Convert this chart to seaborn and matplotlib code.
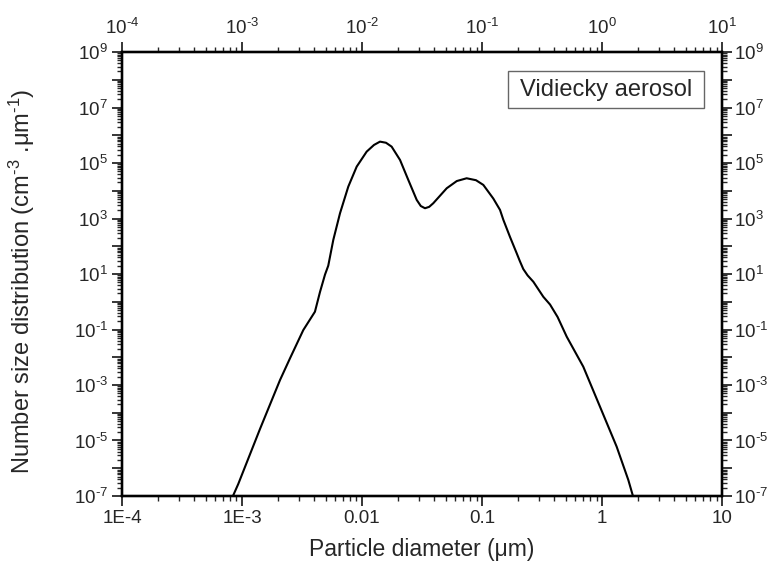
import numpy as np
import pandas as pd
import seaborn as sns
import matplotlib
matplotlib.use('Agg')
import matplotlib.pyplot as plt
from matplotlib.patches import Rectangle
from matplotlib.ticker import LogLocator, FixedLocator, FixedFormatter, FuncFormatter, NullFormatter

# values
diameter = [8.41e-4, 9.31e-4, 1.413e-3, 2.075e-3, 2.512e-3, 3.243e-3, 4.055e-3, 4.467e-3,
            4.920e-3, 5.236e-3, 5.768e-3, 6.561e-3, 7.691e-3, 9.036e-3, 1.094e-2, 1.259e-2,
            1.413e-2, 1.585e-2, 1.766e-2, 2.075e-2, 2.432e-2, 2.858e-2, 3.090e-2, 3.350e-2,
            3.631e-2, 3.926e-2, 5.082e-2, 6.166e-2, 7.447e-2, 8.913e-2, 0.1026, 0.1242,
            0.1413, 0.1507, 0.1710, 0.1945, 0.2065, 0.2208, 0.2399, 0.2679, 0.3243, 0.3690,
            0.4266, 0.5082, 0.6982, 0.9616, 1.324, 1.656, 1.811]
number_dist = [1.0e-7, 2.7e-7, 2.6e-5, 1.51e-3, 9.12e-3, 9.55e-2, 0.437, 2.24,
               9.55, 19.95, 169.8, 1549, 1.413e4, 7.41e4, 2.57e5, 4.47e5,
               5.89e5, 5.37e5, 3.89e5, 1.288e5, 2.455e4, 4677, 2818, 2344,
               2630, 3548, 1.23e4, 2.239e4, 2.818e4, 2.399e4, 1.622e4, 5248,
               2042, 891, 218.8, 56.2, 29.5, 15.1, 8.9, 5.25, 1.51, 0.794,
               0.282, 5.50e-2, 4.57e-3, 1.66e-4, 6.03e-6, 3.80e-7, 1.0e-7]

bottom_ticks = [1e-4, 1e-3, 1e-2, 1e-1, 1, 10]
bottom_labels = ['1E-4', '1E-3', '0.01', '0.1', '1', '10']
top_labels = [r'$10^{\text{-}4}$', r'$10^{\text{-}3}$', r'$10^{\text{-}2}$', r'$10^{\text{-}1}$', '$10^{0}$', '$10^{1}$']

df = pd.DataFrame({'d': diameter, 'n': number_dist})

sns.set_style('ticks')
plt.rcParams['font.family'] = ['Liberation Sans', 'DejaVu Sans']
plt.rcParams['mathtext.fontset'] = 'custom'
plt.rcParams['mathtext.rm'] = 'Liberation Sans'
plt.rcParams['mathtext.it'] = 'Liberation Sans:italic'
plt.rcParams['mathtext.default'] = 'regular'

f = plt.figure(figsize = (7.69, 5.69), dpi = 100)
ax = f.add_axes([0.1586, 0.1283, 0.7803, 0.7803])

sns.lineplot(x = 'd', y = 'n', data = df, ax = ax, color = 'black', linewidth = 1.5, sort = False)

ax.set_xscale('log')
ax.set_yscale('log')
ax.set_xlim(1e-4, 10)
ax.set_ylim(1e-7, 1e9)

ax.xaxis.set_major_locator(FixedLocator(bottom_ticks))
ax.xaxis.set_major_formatter(FixedFormatter(bottom_labels))
ax.xaxis.set_minor_locator(LogLocator(base = 10, subs = np.arange(2, 10), numticks = 20))
ax.xaxis.set_minor_formatter(NullFormatter())

def ylab(v, pos):
    e = int(round(np.log10(v)))
    if e % 2 == 0:
        return ''
    if e < 0:
        return r'$10^{\text{-}%d}$' % (-e)
    return '$10^{%d}$' % e

ax.yaxis.set_major_locator(LogLocator(base = 10, numticks = 30))
ax.yaxis.set_major_formatter(FuncFormatter(ylab))
ax.yaxis.set_minor_locator(LogLocator(base = 10, subs = np.arange(2, 10), numticks = 30))
ax.yaxis.set_minor_formatter(NullFormatter())

ax.tick_params(which = 'major', direction = 'out', length = 7, width = 1.3, labelsize = 13.5, pad = 3)
ax.tick_params(which = 'minor', direction = 'out', length = 3.5, width = 1.0)

# top axis
axt = ax.twiny()
axt.set_xscale('log')
axt.set_xlim(1e-4, 10)
axt.xaxis.set_major_locator(FixedLocator(bottom_ticks))
axt.xaxis.set_major_formatter(FixedFormatter(top_labels))
axt.xaxis.set_minor_locator(LogLocator(base = 10, subs = np.arange(2, 10), numticks = 20))
axt.xaxis.set_minor_formatter(NullFormatter())
axt.tick_params(which = 'major', direction = 'out', length = 7, width = 1.3, labelsize = 13.5, pad = 3)
axt.tick_params(which = 'minor', direction = 'out', length = 3.5, width = 1.0)

# right axis
axr = ax.twinx()
axr.set_yscale('log')
axr.set_ylim(1e-7, 1e9)
axr.yaxis.set_major_locator(LogLocator(base = 10, numticks = 30))
axr.yaxis.set_major_formatter(FuncFormatter(ylab))
axr.yaxis.set_minor_locator(LogLocator(base = 10, subs = np.arange(2, 10), numticks = 30))
axr.yaxis.set_minor_formatter(NullFormatter())
axr.tick_params(which = 'major', direction = 'out', length = 7, width = 1.3, labelsize = 13.5, pad = 1.5)
axr.tick_params(which = 'minor', direction = 'out', length = 3.5, width = 1.0)

for a in [ax, axt, axr]:
    for s in a.spines.values():
        s.set_linewidth(1.6)
        s.set_color('black')

ax.set_xlabel('Particle diameter (\u03bcm)', fontsize = 16.5, labelpad = 8)
ax.set_ylabel('Number size distribution (cm$^{\\text{-}3}$ .\u03bcm$^{\\text{-}1}$)', fontsize = 17)
ax.yaxis.set_label_coords(-0.142, 0.484)

ax.add_patch(Rectangle((0.6433, 0.8739), 0.3267, 0.0833, transform = ax.transAxes,
                       facecolor = 'white', edgecolor = '#666666', linewidth = 1.0, zorder = 3))
ax.text(0.8067, 0.9155, 'Vidiecky aerosol', transform = ax.transAxes, fontsize = 17,
        ha = 'center', va = 'center', zorder = 4)

f.savefig('out.png', dpi = 100)
